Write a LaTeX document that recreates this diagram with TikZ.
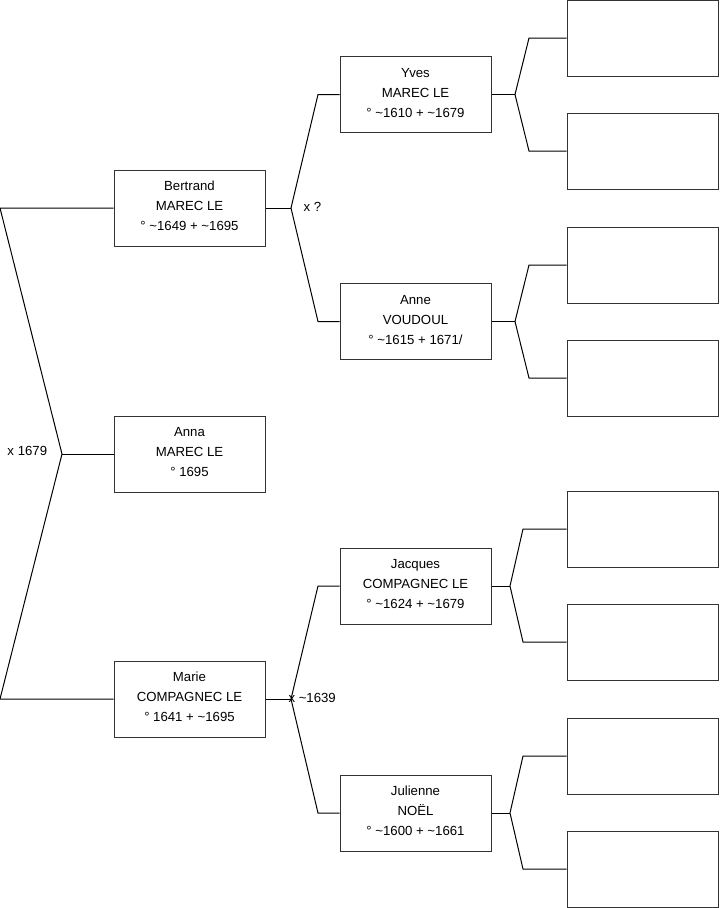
\documentclass[tikz,border=0pt]{standalone}
\usepackage{fontspec}
\setmainfont{Liberation Sans}
\begin{document}
\begin{tikzpicture}[x=0.75pt,y=-0.75pt,line width=0.75pt,
  person/.style={draw=black!80,fill=white,minimum width=113.25pt,minimum height=57pt,align=center,inner sep=0pt,font=\fontsize{9.9}{15}\selectfont},
  emptybox/.style={draw=black!80,fill=white,minimum width=113.25pt,minimum height=57pt,inner sep=0pt},
  lbl/.style={anchor=west,inner sep=0pt,font=\fontsize{9.9}{11}\selectfont},
  conn/.style={draw=black}]
\useasboundingbox (0,0) rectangle (719,908);
% people
\node[person] (bertrand) at (189.5,208) {Bertrand\\MAREC LE\\° \textasciitilde1649 + \textasciitilde1695\rule[-3pt]{0pt}{0pt}};
\node[person] (anna) at (189.5,454) {Anna\\MAREC LE\\° 1695\rule[-3pt]{0pt}{0pt}};
\node[person] (marie) at (189.5,699) {Marie\\COMPAGNEC LE\\° 1641 + \textasciitilde1695\rule[-3pt]{0pt}{0pt}};
\node[person] (yves) at (415.5,94.5) {Yves\\MAREC LE\\° \textasciitilde1610 + \textasciitilde1679\rule[-3pt]{0pt}{0pt}};
\node[person] (anne) at (415.5,321.5) {Anne\\VOUDOUL\\° \textasciitilde1615 + 1671/\rule[-3pt]{0pt}{0pt}};
\node[person] (jacques) at (415.5,586) {Jacques\\COMPAGNEC LE\\° \textasciitilde1624 + \textasciitilde1679\rule[-3pt]{0pt}{0pt}};
\node[person] (julienne) at (415.5,813) {Julienne\\NOËL\\° \textasciitilde1600 + \textasciitilde1661\rule[-3pt]{0pt}{0pt}};
% empty boxes
\node[emptybox] (e1) at (642.5,38) {};
\node[emptybox] (e2) at (642.5,151) {};
\node[emptybox] (e3) at (642.5,265) {};
\node[emptybox] (e4) at (642.5,378) {};
\node[emptybox] (e5) at (642.5,529) {};
\node[emptybox] (e6) at (642.5,642) {};
\node[emptybox] (e7) at (642.5,756) {};
\node[emptybox] (e8) at (642.5,869) {};
% left bracket
\coordinate (lt) at (0,208);
\coordinate (lv) at (62,454);
\coordinate (lb) at (0,699);
\draw[conn] (bertrand.west) -- (lt) -- (lv) -- (lb) -- (marie.west);
\draw[conn] (lv) -- (anna.west);
\node[lbl] (m1) at (7,451) {x 1679};
% Bertrand fork
\coordinate (bv) at (291,208);
\coordinate (bu) at (318,94.5);
\coordinate (bd) at (318,321.5);
\draw[conn] (bertrand.east) -- (bv);
\draw[conn] (yves.west) -- (bu) -- (bv) -- (bd) -- (anne.west);
\node[lbl] (m2) at (303,207) {x ?};
% Marie fork
\coordinate (mv) at (291,699);
\coordinate (mu) at (318,586);
\coordinate (md) at (318,813);
\draw[conn] (marie.east) -- (mv);
\draw[conn] (jacques.west) -- (mu) -- (mv) -- (md) -- (julienne.west);
\node[lbl] (m3) at (288,698) {x \textasciitilde1639};
% Yves fork
\coordinate (yv) at (515,94.5);
\coordinate (yu) at (529,38);
\coordinate (yd) at (529,151);
\draw[conn] (yves.east) -- (yv);
\draw[conn] (e1.west) -- (yu) -- (yv) -- (yd) -- (e2.west);
% Anne fork
\coordinate (av) at (515,321.5);
\coordinate (au) at (529,265);
\coordinate (ad) at (529,378);
\draw[conn] (anne.east) -- (av);
\draw[conn] (e3.west) -- (au) -- (av) -- (ad) -- (e4.west);
% Jacques fork
\coordinate (jv) at (510,586);
\coordinate (ju) at (523,529);
\coordinate (jd) at (523,642);
\draw[conn] (jacques.east) -- (jv);
\draw[conn] (e5.west) -- (ju) -- (jv) -- (jd) -- (e6.west);
% Julienne fork
\coordinate (uv) at (510,813);
\coordinate (uu) at (523,756);
\coordinate (ud) at (523,869);
\draw[conn] (julienne.east) -- (uv);
\draw[conn] (e7.west) -- (uu) -- (uv) -- (ud) -- (e8.west);
\end{tikzpicture}
\end{document}
